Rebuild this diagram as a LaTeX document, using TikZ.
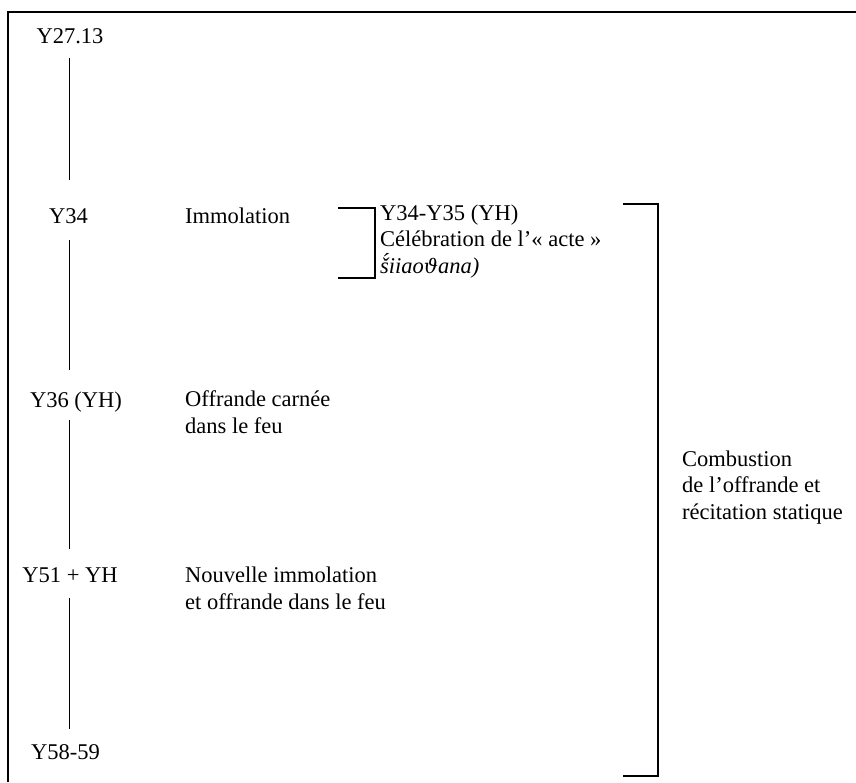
\documentclass[tikz,border=0pt]{standalone}
\usepackage{fontspec}
\setmainfont{Liberation Serif}
\newfontfamily\dvsfont[Scale=0.88]{DejaVu Serif}
\begin{document}
\begin{tikzpicture}[x=1pt,y=-1pt,
  lbl/.style={inner sep=0pt, font=\fontsize{22.5}{26.5}\selectfont, text height=16pt, text depth=6pt},
  mlbl/.style={inner sep=0pt, font=\fontsize{22.5}{26.5}\selectfont, align=left},
  stem/.style={line width=0.9pt},
  brk/.style={line width=1.2pt},
  frame/.style={line width=1.3pt}]
\useasboundingbox (0,0) rectangle (856,782);
\draw[frame] (8,782) -- (8,12) -- (856,12);
\coordinate (spine) at (69.5,0);
% left column
\node[lbl, anchor=base] (y27) at (70,43) {Y27.13};
\node[lbl, anchor=base] (y34) at (68.5,223) {Y34};
\node[lbl, anchor=base] (y36) at (76,407) {Y36 (YH)};
\node[lbl, anchor=base] (y51) at (70,582) {Y51 + YH};
\node[lbl, anchor=base] (y58) at (65.5,759) {Y58-59};
\draw[stem, shorten <=9pt, shorten >=27pt] (y27.south -| spine) -- (y34.north -| spine);
\draw[stem, shorten <=11pt, shorten >=21pt] (y34.south -| spine) -- (y36.north -| spine);
\draw[stem, shorten <=7pt, shorten >=17pt] (y36.south -| spine) -- (y51.north -| spine);
\draw[stem, shorten <=10pt, shorten >=14pt] (y51.south -| spine) -- (y58.north -| spine);
% middle column (base anchor = baseline of the last line)
\node[mlbl, anchor=base west] (imm) at (185,223) {Immolation};
\node[mlbl, anchor=base west] (off) at (185,433) {Offrande carnée\\dans le feu};
\node[mlbl, anchor=base west] (nou) at (185,609) {Nouvelle immolation\\et offrande dans le feu};
% small bracket
\node[mlbl, anchor=base west] (cel) at (380,273) {Y34-Y35 (YH)\\Célébration de l’« acte »\\\textit{š́iiao{\dvsfont\itshape ϑ}ana)}};
\draw[brk] (338,208) -- (375,208) -- (375,278) -- (338,278);
% big bracket
\draw[brk] (623,204) -- (658,204) -- (658,776) -- (623,776);
\node[mlbl, anchor=base west] (comb) at (682,519) {Combustion\\de l’offrande et\\récitation statique};
\end{tikzpicture}
\end{document}
